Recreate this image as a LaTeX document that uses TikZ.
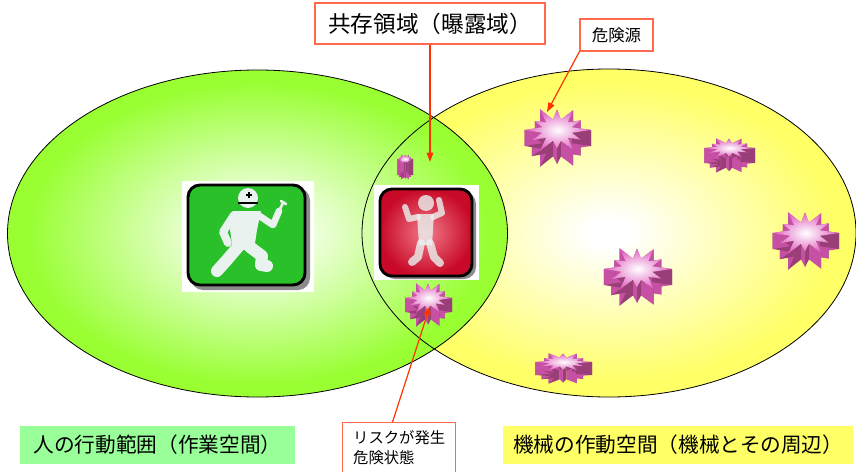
\documentclass[tikz,border=0pt]{standalone}
\usepackage{fontspec}
\newfontfamily\jp{Noto Sans CJK JP}
\usetikzlibrary{arrows.meta}

\definecolor{areagreen}{HTML}{99FF33}
\definecolor{areayellow}{HTML}{FFFF66}
\definecolor{labelgreen}{HTML}{99FF99}
\definecolor{calloutred}{HTML}{FF3300}
\definecolor{boxedge}{HTML}{FF6A4D}
\definecolor{tilegreen}{HTML}{2AC02A}
\definecolor{tilered}{HTML}{C80A28}
\definecolor{tilepink}{HTML}{F27A8A}
\definecolor{figwhite}{HTML}{EAF2F0}
\definecolor{hzlight}{HTML}{E060C0}
\definecolor{hzside}{HTML}{C650A4}
\definecolor{hzdark}{HTML}{9A3E78}

% white centre fading out to the zone colour
\pgfdeclareradialshading{greenzone}{\pgfpoint{0bp}{0bp}}{color(0bp)=(white); color(2bp)=(white); color(23bp)=(areagreen); color(50bp)=(areagreen)}
\pgfdeclareradialshading{yellowzone}{\pgfpoint{0bp}{0bp}}{color(0bp)=(white); color(2bp)=(white); color(23bp)=(areayellow); color(50bp)=(areayellow)}

\tikzset{
  zoneline/.style={draw=black, line width=0.6pt},
  callout/.style={draw=boxedge, fill=white, line width=0.8pt, inner sep=0pt},
  callarrow/.style={draw=calloutred, line width=0.9pt, -{Triangle[length=7pt,width=5pt]}},
  zonelabel/.style={inner sep=0pt, font=\jp\fontsize{15.5pt}{18pt}\selectfont},
  figline/.style={draw=figwhite, line cap=round, line join=round},
}

% hazard: name, x, y, x radius, y radius, depth
\newcommand\hazard[6]{%
  \coordinate (#1) at (#2,#3);
  \begin{scope}[shift={(#2,#3)}]
    \foreach \k/\a/\r in {0/0/1,1/15/.45,2/30/.8,3/45/.45,4/60/.95,5/75/.45,
        6/90/.75,7/105/.45,8/120/1,9/135/.45,10/150/.85,11/165/.45,12/180/.95,
        13/195/.45,14/210/.75,15/225/.45,16/240/1,17/255/.45,18/270/.85,
        19/285/.45,20/300/.95,21/315/.45,22/330/.8,23/345/.45}
      \coordinate (hzv\k) at (\a:{#4*\r} and {#5*\r});
    \foreach \k [evaluate=\k as \j using {int(mod(\k+1,24))}] in {0,...,23}{
      \ifodd\k\relax\def\hzc{hzdark}\else\def\hzc{hzside}\fi
      \fill[\hzc] (hzv\k) -- (hzv\j) -- ([yshift={-#6*0.75pt}]hzv\j)
        -- ([yshift={-#6*0.75pt}]hzv\k) -- cycle;
    }
    \shade[inner color=white, outer color=hzlight] (hzv0)
      \foreach \k in {1,...,23}{ -- (hzv\k)} -- cycle;
  \end{scope}}

\begin{document}
\begin{tikzpicture}[x=0.75pt,y=-0.75pt]
  \useasboundingbox (0,0) rectangle (856,471);
  \fill[white] (0,0) rectangle (856,471);

  % the two zones, machine first so the human zone covers the overlap
  \shade[shading=yellowzone] (609,233) ellipse [x radius=247, y radius=164];
  \shade[shading=greenzone] (257.5,233.5) ellipse [x radius=250, y radius=163.5];
  \draw[zoneline] (609,233) ellipse [x radius=247, y radius=164];
  \draw[zoneline] (257.5,233.5) ellipse [x radius=250, y radius=163.5];

  % worker sign
  \fill[white] (182,181) rectangle (314,292);
  \fill[black!45, rounded corners=9pt] (191,188) rectangle (310,290);
  \filldraw[fill=tilegreen, draw=black, line width=2.2pt, rounded corners=9pt]
    (188,185) rectangle (305,285);
  \fill[figwhite] (248,198) circle [radius=10];
  \draw[black, line width=1.4pt] (238,203) -- (258,203);
  \draw[black, line width=1pt] (246,195) -- (252,195) (249,192) -- (249,198);
  \fill[figwhite] (233,211) -- (261,211) -- (257,230) -- (254,250)
    -- (233,250) -- (230,230) -- cycle;
  \draw[figline, line width=6pt] (234,215) -- (223,232) -- (228,243);
  \draw[figline, line width=5pt] (258,215) -- (273,225) -- (279,211);
  \draw[figline, line width=2pt] (279,211) -- (283,203) (281,201) -- (286,204);
  \draw[figline, line width=9pt] (238,247) -- (226,261) -- (217,271);
  \draw[figline, line width=9pt] (250,247) -- (262,256) -- (261,265) -- (267,266);

  % endangered person sign
  \fill[white] (374,185) rectangle (479,280);
  \fill[black!45, rounded corners=9pt] (383,192) rectangle (476,279);
  \shade[inner color=tilepink, outer color=tilered, rounded corners=9pt]
    (380,189) rectangle (472,276);
  \draw[black, line width=2.2pt, rounded corners=9pt] (380,189) rectangle (472,276);
  \begin{scope}[opacity=0.8]
    \fill[figwhite] (426,203) circle [radius=8];
    \fill[figwhite] (417,214) -- (434,214) -- (432,245) -- (419,245) -- cycle;
    \draw[figline, line width=4.5pt] (418,217) -- (409,219) -- (405,207);
    \draw[figline, line width=4.5pt] (433,217) -- (442,213) -- (439,200);
    \draw[figline, line width=6pt] (421,243) -- (418,257) -- (412,262);
    \draw[figline, line width=6pt] (430,243) -- (434,257) -- (440,263);
  \end{scope}

  % hazard sources
  \hazard{hzA}{405}{159}{8}{5}{16}
  \hazard{hzB}{428}{298}{24}{17}{14}
  \hazard{hzC}{557}{130}{34}{24}{16}
  \hazard{hzD}{729}{148}{26}{11}{15}
  \hazard{hzE}{805}{233}{34}{24}{16}
  \hazard{hzF}{637}{269}{35}{24}{16}
  \hazard{hzG}{563}{362}{29}{10}{13}

  % callouts
  \node[callout, minimum width=172.5pt, minimum height=30.75pt,
    font=\jp\fontsize{17pt}{20pt}\selectfont] (overlap) at (430,23.5) {共存領域（曝露域）};
  \node[callout, minimum width=54.75pt, minimum height=24pt,
    font=\jp\fontsize{12.3pt}{15pt}\selectfont] (source) at (616.5,35) {危険源};
  \node[callout, anchor=north west, align=left, inner xsep=8pt, inner ysep=6pt,
    font=\jp\fontsize{11.5pt}{15pt}\selectfont] (risk) at (342,422) {リスクが発生\\危険状態};

  \coordinate (lensmark) at (430,162);
  \coordinate (sourcemark) at (547,112);
  \coordinate (riskmark) at (430,306);
  \draw[callarrow] (overlap.south) -- (lensmark);
  \draw[callarrow] (source.south west) -- (sourcemark);
  \draw[callarrow] ([xshift=-5pt]risk.north) -- (riskmark);

  % zone names
  \node[zonelabel, fill=labelgreen, minimum width=206.25pt, minimum height=28.5pt]
    (humanzone) at (157.5,445) {人の行動範囲（作業空間）};
  \node[zonelabel, fill=areayellow, anchor=west, inner xsep=7.5pt, minimum height=28.5pt]
    (machinezone) at (503,445) {機械の作動空間（機械とその周辺）};
\end{tikzpicture}
\end{document}
